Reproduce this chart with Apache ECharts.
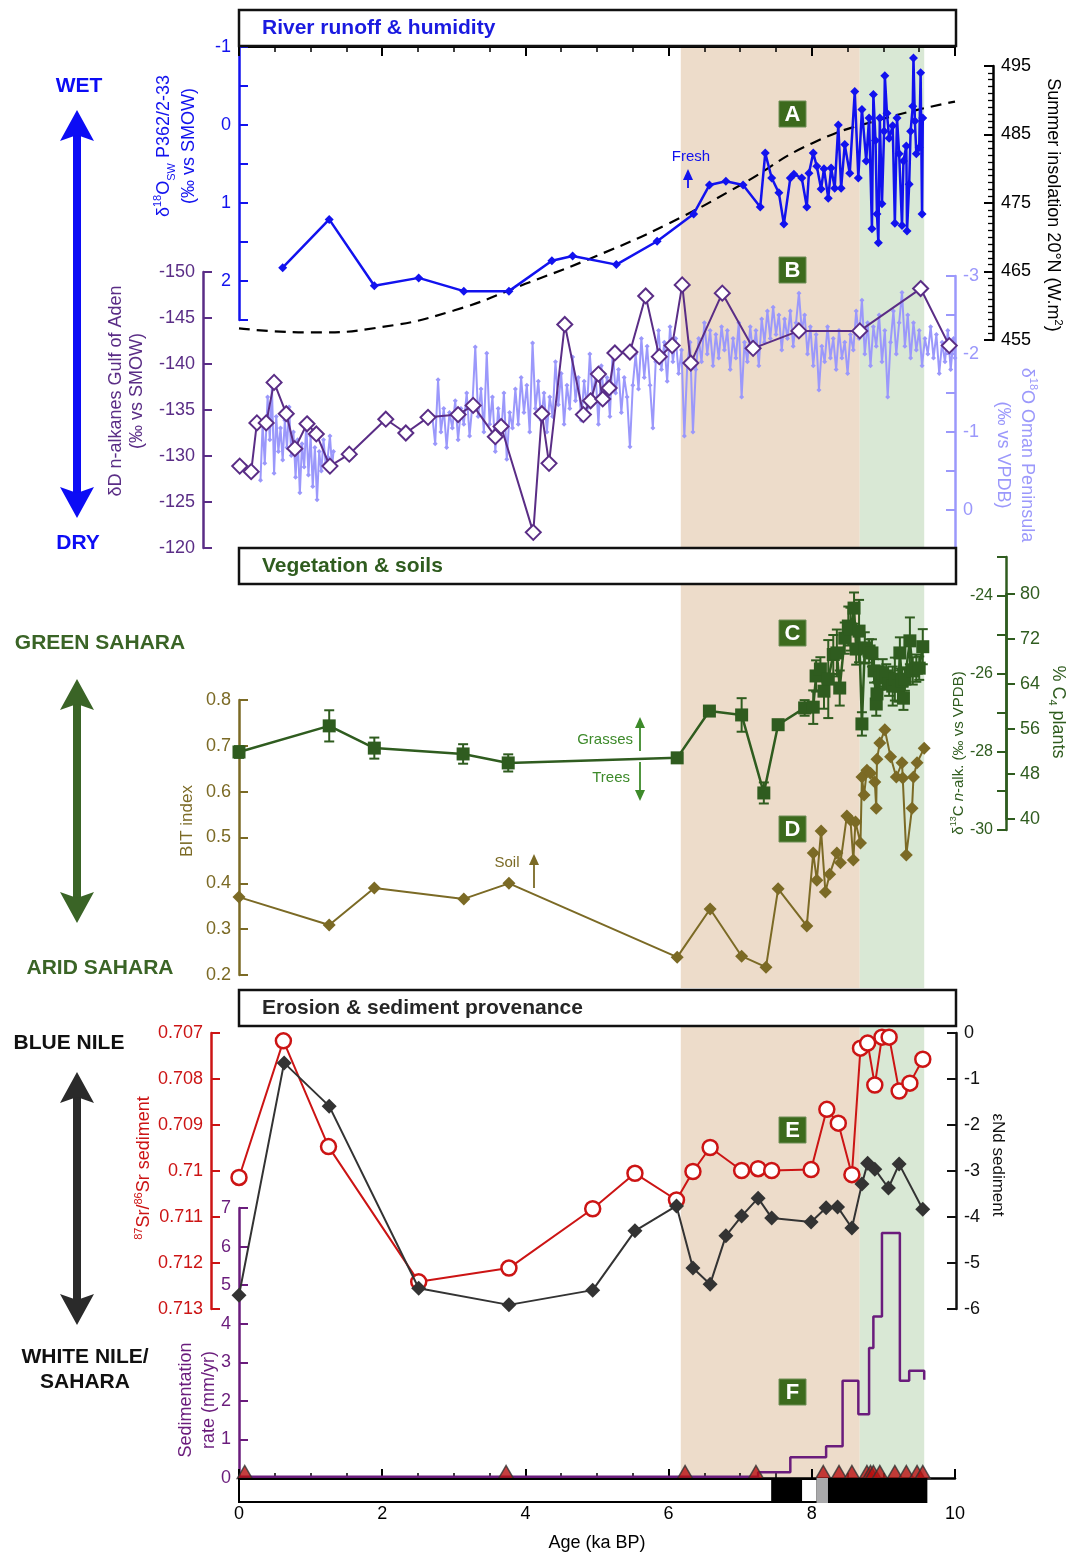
<!DOCTYPE html>
<html><head><meta charset="utf-8">
<script src="https://cdn.jsdelivr.net/npm/echarts@6/dist/echarts.min.js"></script>
<style>html,body{margin:0;padding:0;background:#fff}#c{width:1070px;height:1553px}</style>
</head><body><div id="c"></div><script>
// ---------------- DATA ----------------
const ageMin = 0, ageMax = 10;
const bands = [[6.17, 8.67, 0], [8.67, 9.57, 1]];

// A: d18O seawater P362/2-33
const d18Osw = [[0.61,1.83],[1.26,1.21],[1.89,2.06],[2.51,1.96],[3.14,2.13],[3.77,2.13],[4.37,1.74],[4.66,1.68],[5.27,1.79],[5.84,1.49],[6.35,1.14],[6.57,0.77],[6.80,0.72],[7.04,0.77],[7.28,1.05],[7.35,0.36],[7.44,0.68],[7.54,0.87],[7.61,1.27],[7.70,0.68],[7.75,0.63],[7.86,0.68],[7.93,1.05],[7.96,0.62],[8.02,0.36],[8.07,0.53],[8.13,0.82],[8.17,0.56],[8.23,0.94],[8.27,0.55],[8.32,0.81],[8.37,0.0],[8.41,0.81],[8.46,0.25],[8.53,0.62],[8.60,-0.43],[8.65,0.68],[8.70,-0.2],[8.76,0.46],[8.80,-0.09],[8.84,1.33],[8.86,-0.39],[8.89,0.2],[8.91,1.14],[8.93,1.51],[8.95,-0.09],[8.98,1.01],[9.01,0.08],[9.02,-0.63],[9.05,-0.15],[9.08,0.17],[9.13,0.01],[9.16,1.26],[9.19,-0.09],[9.22,0.37],[9.26,1.29],[9.28,0.46],[9.32,0.27],[9.33,1.36],[9.36,0.76],[9.38,0.08],[9.41,-0.24],[9.42,-0.86],[9.44,-0.05],[9.46,0.37],[9.50,0.29],[9.52,-0.67],[9.54,1.14],[9.55,-0.09]];

// Summer insolation 20N
const insolation = [[0,456.7],[1,456.1],[2,456.9],[3,459.3],[4,463.2],[5,467.3],[6,472.0],[7,477.6],[8,483.7],[9,487.3],[10,489.8]];

// B: dD n-alkanes Gulf of Aden
const dD = [[0.01,-128.9],[0.17,-128.3],[0.25,-133.6],[0.38,-133.6],[0.49,-138.0],[0.66,-134.6],[0.78,-130.8],[0.95,-133.5],[1.08,-132.4],[1.27,-128.9],[1.54,-130.2],[2.05,-134.0],[2.33,-132.5],[2.64,-134.2],[3.06,-134.5],[3.27,-135.5],[3.58,-132.1],[3.66,-133.2],[4.11,-121.7],[4.23,-134.6],[4.33,-129.2],[4.55,-144.3],[4.81,-134.5],[4.91,-136.0],[5.02,-138.9],[5.08,-136.2],[5.17,-137.4],[5.25,-141.2],[5.46,-141.3],[5.68,-147.4],[5.87,-140.8],[6.05,-142.0],[6.19,-148.6],[6.31,-140.1],[6.75,-147.7],[7.18,-141.7],[7.82,-143.6],[8.67,-143.6],[9.52,-148.2],[9.92,-142.0]];

// B: d18O Oman Peninsula speleothem
const omanA = [[0.30,-0.38],[0.33,-1.10],[0.36,-0.60],[0.40,-1.45],[0.43,-0.90],[0.46,-1.58],[0.49,-0.47],[0.52,-1.20],[0.55,-0.75],[0.58,-1.05],[0.61,-0.64],[0.64,-1.15],[0.67,-0.80],[0.70,-1.32],[0.73,-0.70],[0.76,-1.00],[0.79,-0.42],[0.82,-0.90],[0.85,-0.22],[0.88,-0.85],[0.91,-0.55],[0.94,-1.10],[0.97,-0.45],[1.00,-0.95],[1.03,-0.30],[1.06,-0.80],[1.09,-0.13],[1.12,-0.75],[1.15,-0.50],[1.18,-0.90],[1.21,-0.60],[1.24,-0.68],[1.27,-0.95],[1.30,-0.55],[1.32,-0.75]];
const omanB = [[2.70,-1.20],[2.74,-0.85],[2.78,-1.67],[2.82,-1.00],[2.86,-1.30],[2.90,-0.80],[2.94,-1.25],[2.98,-1.05],[3.02,-1.40],[3.06,-0.90],[3.10,-1.30],[3.14,-1.10],[3.18,-1.50],[3.22,-0.95],[3.26,-1.35],[3.30,-2.09],[3.34,-1.20],[3.38,-1.55],[3.42,-1.00],[3.46,-2.01],[3.50,-1.10],[3.54,-1.45],[3.58,-0.75],[3.62,-1.30],[3.66,-0.95],[3.70,-1.50],[3.74,-0.65],[3.78,-1.25],[3.82,-1.05],[3.86,-1.55],[3.90,-1.10],[3.94,-1.70],[3.98,-1.25],[4.02,-1.60],[4.06,-1.00],[4.10,-2.14],[4.14,-1.30],[4.18,-1.65],[4.22,-1.15],[4.26,-1.50],[4.30,-1.00],[4.34,-1.45],[4.38,-1.20],[4.42,-1.90],[4.46,-1.35],[4.50,-1.75],[4.54,-1.10],[4.58,-1.60],[4.62,-1.30],[4.66,-1.96],[4.70,-1.40],[4.74,-1.70],[4.78,-1.15],[4.82,-1.65],[4.86,-1.30],[4.90,-2.00],[4.94,-1.45],[4.98,-1.75],[5.02,-1.10],[5.06,-1.85],[5.10,-1.40],[5.14,-1.70],[5.18,-1.20],[5.22,-2.05],[5.26,-1.50],[5.30,-1.80],[5.34,-1.25],[5.38,-1.70],[5.42,-1.45],[5.46,-0.81],[5.50,-1.60],[5.54,-2.00],[5.58,-1.55],[5.62,-2.20],[5.66,-1.70],[5.70,-2.10],[5.74,-1.60],[5.78,-1.05],[5.82,-1.90],[5.86,-2.30],[5.90,-1.80],[5.94,-2.15],[5.98,-1.65],[6.02,-2.35],[6.06,-1.90],[6.10,-2.20],[6.14,-1.75],[6.18,-2.05],[6.22,-0.95],[6.26,-1.85],[6.30,-2.15],[6.34,-1.00],[6.38,-1.80],[6.42,-2.20],[6.46,-1.90],[6.50,-2.40],[6.54,-2.00],[6.58,-2.30],[6.62,-1.85],[6.66,-2.25],[6.70,-1.95],[6.74,-2.35],[6.78,-2.05],[6.82,-2.30],[6.86,-1.80],[6.90,-2.20],[6.94,-1.95],[6.98,-2.40],[7.02,-1.45],[7.06,-2.15],[7.10,-1.90],[7.14,-2.35],[7.18,-2.00],[7.22,-2.30],[7.26,-1.85],[7.30,-2.45],[7.34,-2.15],[7.38,-2.55],[7.42,-2.20],[7.46,-2.60],[7.50,-2.25],[7.54,-2.50],[7.58,-2.05],[7.62,-2.45],[7.66,-2.20],[7.70,-2.55],[7.74,-2.10],[7.78,-2.40],[7.82,-2.78],[7.86,-2.30],[7.90,-2.50],[7.94,-2.00],[7.98,-2.35],[8.02,-1.85],[8.06,-2.25],[8.10,-1.54],[8.14,-2.10],[8.18,-1.90],[8.22,-2.35],[8.26,-1.95],[8.30,-2.20],[8.34,-1.80],[8.38,-2.30],[8.42,-1.95],[8.46,-2.15],[8.50,-1.75],[8.54,-2.25],[8.58,-2.05],[8.62,-2.55],[8.66,-2.20],[8.70,-2.69],[8.74,-2.00],[8.78,-2.40],[8.82,-1.85],[8.86,-2.35],[8.90,-2.10],[8.94,-2.50],[8.98,-1.90],[9.02,-2.30],[9.06,-1.45],[9.10,-2.15],[9.14,-2.55],[9.18,-2.00],[9.22,-2.40],[9.26,-2.79],[9.30,-2.10],[9.34,-2.50],[9.38,-1.95],[9.42,-2.40],[9.46,-2.05],[9.50,-2.30],[9.54,-1.85],[9.58,-2.20],[9.62,-2.00],[9.66,-2.35],[9.70,-1.95],[9.74,-2.25],[9.78,-1.75],[9.82,-2.15],[9.86,-1.90],[9.90,-2.30],[9.94,-1.80],[9.98,-2.20],[10.0,-1.95]];

// C: d13C n-alkanes [age, value, error]
const d13C = [[0,-28.0,0.15],[1.26,-27.33,0.4],[1.89,-27.9,0.27],[3.13,-28.05,0.25],[3.76,-28.28,0.22],[6.12,-28.15,0.1],[6.57,-26.95,0.1],[7.02,-27.05,0.43],[7.33,-29.05,0.27],[7.53,-27.3,0.1],[7.90,-26.87,0.2],[8.02,-26.85,0.43],[8.06,-26.05,0.4],[8.12,-25.87,0.3],[8.17,-26.44,0.45],[8.23,-26.13,1.0],[8.30,-25.5,0.5],[8.35,-25.46,0.6],[8.39,-26.36,0.45],[8.46,-25.08,0.4],[8.51,-24.77,0.5],[8.54,-24.85,0.55],[8.59,-24.31,0.4],[8.62,-25.36,0.4],[8.66,-24.9,0.8],[8.70,-27.28,0.3],[8.74,-25.33,0.4],[8.80,-25.41,0.3],[8.84,-25.46,0.35],[8.87,-25.92,0.3],[8.90,-26.77,0.3],[8.91,-26.51,0.3],[8.95,-26.1,0.3],[8.99,-25.97,0.35],[9.04,-26.05,0.3],[9.08,-26.26,0.3],[9.13,-26.31,0.5],[9.16,-26.13,0.55],[9.21,-26.31,0.4],[9.23,-25.46,0.4],[9.26,-26.18,0.3],[9.28,-26.62,0.3],[9.30,-26.13,0.3],[9.37,-25.15,0.6],[9.41,-25.92,0.35],[9.46,-25.85,0.35],[9.50,-25.85,0.3],[9.55,-25.3,0.45]];

// D: BIT index
const bit = [[0,0.370],[1.26,0.309],[1.89,0.390],[3.14,0.366],[3.77,0.400],[6.12,0.239],[6.58,0.344],[7.02,0.241],[7.36,0.217],[7.53,0.388],[7.93,0.307],[8.02,0.466],[8.07,0.407],[8.13,0.514],[8.19,0.381],[8.25,0.420],[8.35,0.466],[8.40,0.445],[8.49,0.547],[8.54,0.538],[8.58,0.451],[8.61,0.534],[8.68,0.488],[8.70,0.632],[8.73,0.593],[8.77,0.647],[8.82,0.640],[8.88,0.621],[8.90,0.564],[8.91,0.671],[8.95,0.706],[9.02,0.735],[9.10,0.676],[9.18,0.632],[9.26,0.663],[9.27,0.630],[9.32,0.462],[9.40,0.564],[9.42,0.632],[9.47,0.663],[9.57,0.695]];

// E: 87Sr/86Sr and eNd
const srAge = [0,0.62,1.25,2.51,3.77,4.94,5.53,6.11,6.34,6.58,7.02,7.25,7.44,7.99,8.21,8.37,8.56,8.68,8.78,8.88,8.98,9.08,9.22,9.37,9.55];
const srVal = [0.71014,0.70717,0.70947,0.71241,0.71211,0.71082,0.71005,0.71063,0.71001,0.70949,0.70999,0.70995,0.70999,0.70997,0.70866,0.70896,0.71008,0.70733,0.70722,0.70813,0.70709,0.70709,0.70826,0.70809,0.70757];
const ndAge = [0,0.63,1.26,2.51,3.77,4.94,5.53,6.11,6.34,6.58,6.80,7.02,7.25,7.44,7.99,8.20,8.36,8.56,8.70,8.78,8.88,9.07,9.22,9.55];
const ndVal = [-5.7,-0.65,-1.59,-5.55,-5.91,-5.59,-4.30,-3.76,-5.11,-5.46,-4.41,-3.98,-3.59,-4.02,-4.11,-3.80,-3.78,-4.24,-3.28,-2.83,-2.96,-3.37,-2.85,-3.83];

// F: sedimentation rate (step) and dated levels
const sedRate = [[0,0.03],[7.25,0.15],[7.7,0.54],[8.2,0.82],[8.43,2.52],[8.65,1.65],[8.8,3.37],[8.86,4.19],[8.98,6.35],[9.23,2.52],[9.36,2.78],[9.57,2.78],[9.57,2.55]];
const datedAges = [0.08,3.73,6.23,7.22,8.16,8.38,8.56,8.77,8.82,8.86,8.95,9.16,9.32,9.47,9.55];
// lithology / chronology bar [start, end, kind]
const chronBar = [[0,7.45,0],[7.45,7.85,1],[7.85,8.08,0],[8.08,8.24,2],[8.24,9.6,1]];

// ---------------- STYLE ----------------
const FONT = '"Liberation Sans", Arial, Helvetica, sans-serif';
const BLUE='#1212ee', PURPLE='#5a2d86', LILAC='#9b98fb', OLIVE='#7b6a25', DKG='#2f5c1f', RED='#cc1414', DARK='#333333', SEDP='#6a1c7c', TAN='#eddcca', SAGE='#d9e8d5', BOXG='#3c6a1d';

const gridDefs = [[47,501],[585,403],[1027,453],[47,273],[66,274],[272,276],[276,273],[700,275],[557,273],[594,225],[1033,276],[1208,273]];
const grids = gridDefs.map(g => ({left:239, width:716, top:g[0], height:g[1]}));

const xAxes = grids.map((g,i) => ({gridIndex:i, type:'value', min:ageMin, max:ageMax, show:false}));
xAxes[3] = {gridIndex:3, type:'value', min:0, max:10, interval:2, position:'top',
  axisLine:{show:true,onZero:false,lineStyle:{color:'#000',width:2}},
  axisTick:{show:true,inside:true,length:9,lineStyle:{color:'#000',width:2}},
  minorTick:{show:true,splitNumber:4,length:5,lineStyle:{color:'#000',width:1.5}},
  axisLabel:{show:false}, splitLine:{show:false}};
xAxes[11] = {gridIndex:11, type:'value', min:0, max:10, interval:2, position:'bottom',
  axisLine:{show:true,onZero:false,lineStyle:{color:'#000',width:2.5}},
  axisTick:{show:true,inside:true,length:9,lineStyle:{color:'#000',width:2}},
  minorTick:{show:true,splitNumber:4,length:5,lineStyle:{color:'#000',width:1.5}},
  axisLabel:{show:true,margin:27,fontSize:18,color:'#000',fontFamily:FONT},
  name:'Age (ka BP)', nameLocation:'middle', nameGap:56, nameTextStyle:{fontSize:18,color:'#000',fontFamily:FONT},
  splitLine:{show:false}};

function yax(gi, o){
  const c = o.color;
  return Object.assign({gridIndex:gi, type:'value', splitLine:{show:false},
    axisLine:{show:true,onZero:false,lineStyle:{color:c,width:2.5}},
    axisTick:{show:true,inside:true,length:9,lineStyle:{color:c,width:2}},
    axisLabel:{color:c,fontSize:18,fontFamily:FONT,margin:8}}, o);
}
const intOnly = v => (Math.abs(v - Math.round(v)) < 1e-9 ? String(Math.round(v)) : '');
const yAxes = [
  {gridIndex:0,type:'value',min:0,max:1,show:false},
  {gridIndex:1,type:'value',min:0,max:1,show:false},
  {gridIndex:2,type:'value',min:0,max:1,show:false},
  yax(3,{color:BLUE,position:'left',min:-1,max:2.5,interval:0.5,inverse:true,axisLabel:{color:BLUE,fontSize:18,fontFamily:FONT,margin:8,formatter:intOnly}}),
  yax(4,{color:'#000',position:'right',offset:38,min:455,max:495,interval:10,
     minorTick:{show:true,splitNumber:10,length:5,lineStyle:{color:'#000',width:1.3}},
     axisTick:{show:true,inside:true,length:9,lineStyle:{color:'#000',width:2}}}),
  yax(5,{color:PURPLE,position:'left',offset:36,min:-150,max:-120,interval:5,inverse:true}),
  yax(6,{color:LILAC,position:'right',offset:0,min:-3,max:0.5,interval:0.5,inverse:true,axisLabel:{color:LILAC,fontSize:18,fontFamily:FONT,margin:8,formatter:intOnly}}),
  yax(7,{color:OLIVE,position:'left',min:0.2,max:0.8,interval:0.1}),
  yax(8,{color:DKG,position:'right',offset:51,min:-30,max:-23,interval:1,
     axisLabel:{inside:true,color:DKG,fontSize:16,fontFamily:FONT,margin:13,formatter:v=>(Math.round(v)%2===0?String(v):'')}}),
  yax(9,{color:DKG,position:'right',offset:51,min:40,max:80,interval:8,
     axisTick:{show:true,inside:false,length:9,lineStyle:{color:DKG,width:2}},
     axisLabel:{color:DKG,fontSize:18,fontFamily:FONT,margin:14}}),
  yax(10,{color:RED,position:'left',offset:28,min:0.707,max:0.713,interval:0.001,inverse:true}),
  yax(11,{color:SEDP,position:'left',offset:0,min:0,max:7,interval:1}),
  yax(10,{color:'#111',position:'right',offset:1,min:-6,max:0,interval:1})
];

function bandSeries(i){
  return {type:'custom', xAxisIndex:i, yAxisIndex:i, z:0, silent:true, data:bands,
    renderItem:(params, api) => {
      const p0 = api.coord([api.value(0), 1]), p1 = api.coord([api.value(1), 0]);
      return {type:'rect', shape:{x:p0[0], y:p0[1], width:p1[0]-p0[0], height:p1[1]-p0[1]}, style:{fill: api.value(2) === 0 ? TAN : SAGE}};
    }};
}

const series = [
  bandSeries(0), bandSeries(1), bandSeries(2),
  {type:'line', xAxisIndex:6, yAxisIndex:6, data:omanA, z:3, symbol:'diamond', symbolSize:5, showAllSymbol:true, itemStyle:{color:LILAC}, lineStyle:{color:LILAC,width:2}},
  {type:'line', xAxisIndex:6, yAxisIndex:6, data:omanB, z:3, symbol:'diamond', symbolSize:5, showAllSymbol:true, itemStyle:{color:LILAC}, lineStyle:{color:LILAC,width:2}},
  {type:'line', xAxisIndex:5, yAxisIndex:5, data:dD, z:5, symbol:'diamond', symbolSize:15, itemStyle:{color:'#fff',borderColor:PURPLE,borderWidth:2}, lineStyle:{color:PURPLE,width:2}},
  {type:'line', xAxisIndex:4, yAxisIndex:4, data:insolation, z:4, smooth:true, symbol:'none', lineStyle:{color:'#000',width:2.2,type:[11,7]}},
  {type:'line', xAxisIndex:3, yAxisIndex:3, data:d18Osw, z:6, symbol:'diamond', symbolSize:9, showAllSymbol:true, itemStyle:{color:BLUE}, lineStyle:{color:BLUE,width:2.5}},
  {type:'line', xAxisIndex:7, yAxisIndex:7, data:bit, z:5, symbol:'diamond', symbolSize:13, showAllSymbol:true, itemStyle:{color:OLIVE}, lineStyle:{color:OLIVE,width:2}},
  {type:'custom', xAxisIndex:8, yAxisIndex:8, data:d13C, z:4,
    renderItem:(params, api) => {
      const x = api.value(0), v = api.value(1), e = api.value(2);
      const a = api.coord([x, v - e]), b = api.coord([x, v + e]);
      const st = {stroke:DKG, lineWidth:2};
      return {type:'group', children:[
        {type:'line', shape:{x1:a[0],y1:a[1],x2:b[0],y2:b[1]}, style:st},
        {type:'line', shape:{x1:a[0]-5,y1:a[1],x2:a[0]+5,y2:a[1]}, style:st},
        {type:'line', shape:{x1:b[0]-5,y1:b[1],x2:b[0]+5,y2:b[1]}, style:st}]};
    }},
  {type:'line', xAxisIndex:8, yAxisIndex:8, data:d13C.map(d => [d[0], d[1]]), z:5, symbol:'rect', symbolSize:13, showAllSymbol:true, itemStyle:{color:DKG}, lineStyle:{color:DKG,width:2.5}},
  {type:'line', xAxisIndex:10, yAxisIndex:10, data:srAge.map((a,i) => [a, srVal[i]]), z:5, symbol:'circle', symbolSize:15, showAllSymbol:true, itemStyle:{color:'#fff',borderColor:RED,borderWidth:2.5}, lineStyle:{color:RED,width:2}},
  {type:'line', xAxisIndex:10, yAxisIndex:12, data:ndAge.map((a,i) => [a, ndVal[i]]), z:6, symbol:'diamond', symbolSize:15, showAllSymbol:true, itemStyle:{color:DARK}, lineStyle:{color:DARK,width:2}},
  {type:'line', xAxisIndex:11, yAxisIndex:11, data:sedRate, z:5, step:'end', symbol:'none', lineStyle:{color:SEDP,width:2.5}},
  {type:'scatter', xAxisIndex:11, yAxisIndex:11, data:datedAges.map(a => [a, 0]), z:7, symbol:'triangle', symbolSize:[15,13], symbolOffset:[0,-6], itemStyle:{color:'#b80f0f',borderColor:'#333',borderWidth:1.5}},
  {type:'custom', xAxisIndex:11, yAxisIndex:11, data:chronBar, z:8,
    renderItem:(params, api) => {
      const a = api.coord([api.value(0), 0]), b = api.coord([api.value(1), 0]);
      const k = api.value(2);
      return {type:'rect', shape:{x:a[0], y:a[1]+1, width:b[0]-a[0], height:23},
        style:{fill: k===0 ? '#fff' : (k===1 ? '#000' : '#a9a9ab'), stroke: k===2 ? '#a9a9ab' : '#000', lineWidth:2}};
    }}
];

// ---------------- GRAPHIC ----------------
function rich(color, size){
  return {
    sup:{fill:color, fontSize:Math.round(size*0.6), fontFamily:FONT, verticalAlign:'top', lineHeight:size+4},
    sub:{fill:color, fontSize:Math.round(size*0.6), fontFamily:FONT, verticalAlign:'bottom', lineHeight:size+4},
    it:{fill:color, fontSize:size, fontFamily:FONT, fontStyle:'italic', lineHeight:size+4}
  };
}
function rtext(x, y, rot, text, color, size, lh){
  return {type:'text', x:x, y:y, rotation:rot, z:60, style:{text:text, fill:color, fontSize:size, fontFamily:FONT, align:'center', verticalAlign:'middle', lineHeight:lh||size+4, rich:rich(color,size)}};
}
function label(x, y, text, color, size, bold, align){
  return {type:'text', x:x, y:y, z:60, style:{text:text, fill:color, fontSize:size, fontWeight:bold?'bold':'normal', fontFamily:FONT, align:align||'center', verticalAlign:'middle'}};
}
function titleBox(y, text, color){
  return [{type:'rect', z:50, shape:{x:239, y:y, width:717, height:36}, style:{fill:'#fff', stroke:'#111', lineWidth:2.5}},
          label(262, y+18, text, color, 21, true, 'left')];
}
function letterBox(y, ch){
  return [{type:'rect', z:55, shape:{x:779, y:y, width:27, height:26}, style:{fill:BOXG, stroke:'#6e8e57', lineWidth:1}},
          label(792.5, y+13.5, ch, '#fff', 22, true)];
}
function bigArrow(x, y1, y2, color){
  return [
    {type:'rect', z:50, shape:{x:x-4, y:y1+20, width:8, height:(y2-y1)-40}, style:{fill:color}},
    {type:'polygon', z:50, shape:{points:[[x,y1],[x+17,y1+31],[x,y1+25],[x-17,y1+31]]}, style:{fill:color}},
    {type:'polygon', z:50, shape:{points:[[x,y2],[x+17,y2-31],[x,y2-25],[x-17,y2-31]]}, style:{fill:color}}
  ];
}
function smallArrow(x, yFrom, yTip, color){
  const dir = yTip < yFrom ? 1 : -1;
  return [
    {type:'line', z:60, shape:{x1:x, y1:yFrom, x2:x, y2:yTip + dir*6}, style:{stroke:color, lineWidth:1.8}},
    {type:'polygon', z:60, shape:{points:[[x,yTip],[x+5,yTip+dir*11],[x-5,yTip+dir*11]]}, style:{fill:color}}
  ];
}
const CCW = Math.PI/2, CW = -Math.PI/2;
const graphic = [].concat(
  titleBox(10, 'River runoff & humidity', '#1a1ae0'),
  titleBox(548, 'Vegetation & soils', DKG),
  titleBox(990, 'Erosion & sediment provenance', '#262626'),
  letterBox(101,'A'), letterBox(257,'B'), letterBox(620,'C'), letterBox(816,'D'), letterBox(1117,'E'), letterBox(1379,'F'),
  bigArrow(77, 110, 518, '#0c0cf5'),
  bigArrow(77, 679, 923, '#3a6426'),
  bigArrow(77, 1072, 1325, '#2a2a2a'),
  [label(79, 86, 'WET', '#0c0cf5', 21, true), label(78, 543, 'DRY', '#0c0cf5', 21, true),
   label(100, 643, 'GREEN SAHARA', '#3a6426', 21, true), label(100, 968, 'ARID SAHARA', '#3a6426', 21, true),
   label(69, 1043, 'BLUE NILE', '#111', 21, true), label(85, 1357, 'WHITE NILE/', '#111', 21, true), label(85, 1382, 'SAHARA', '#111', 21, true),
   label(691, 157, 'Fresh', BLUE, 15), label(633, 740, 'Grasses', '#3d8a2a', 15, false, 'right'), label(630, 778, 'Trees', '#3d8a2a', 15, false, 'right'),
   label(507, 863, 'Soil', OLIVE, 15),
   rtext(177, 146, CCW, 'δ{sup|18}O{sub|SW} P362/2-33\n(‰ vs SMOW)', BLUE, 18, 25),
   rtext(127, 391, CCW, 'δD n-alkanes Gulf of Aden\n(‰ vs SMOW)', PURPLE, 18, 21),
   rtext(1053, 205, CW, 'Summer insolation 20°N (W.m{sup|2})', '#000', 18),
   rtext(1015, 455, CW, 'δ{sup|18}O Oman Peninsula\n(‰ vs VPDB)', LILAC, 18, 24),
   rtext(187, 821, CCW, 'BIT index', OLIVE, 17),
   rtext(959, 753, CCW, 'δ{sup|13}C {it|n}-alk. (‰ vs VPDB)', DKG, 15),
   rtext(1058, 712, CW, '% C{sub|4} plants', DKG, 18),
   rtext(144, 1168, CCW, '{sup|87}Sr/{sup|86}Sr sediment', RED, 18),
   rtext(998, 1165, CW, 'εNd sediment', '#111', 17),
   rtext(198, 1400, CCW, 'Sedimentation\nrate (mm/yr)', SEDP, 18, 23)],
  smallArrow(688, 188, 169, BLUE),
  smallArrow(640, 751, 717, '#3d8a2a'),
  smallArrow(640, 762, 801, '#3d8a2a'),
  smallArrow(534, 888, 854, OLIVE)
);

const chart = echarts.init(document.getElementById('c'));
chart.setOption({animation:false, backgroundColor:'#fff', grid:grids, xAxis:xAxes, yAxis:yAxes, series:series, graphic:{elements:graphic}});
</script></body></html>
